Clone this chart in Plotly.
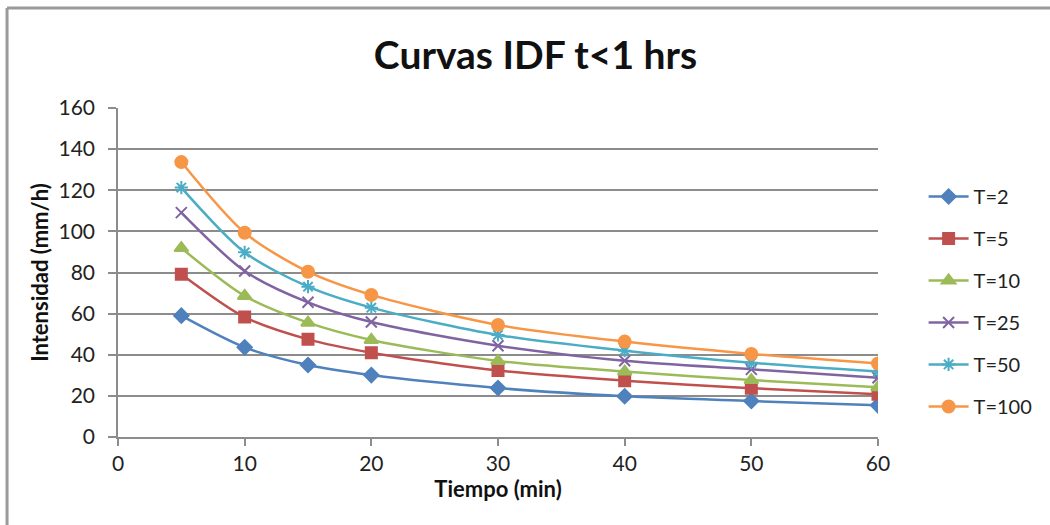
import plotly.graph_objects as go

tiempo = [5, 10, 15, 20, 30, 40, 50, 60]
series_names = ["T=2", "T=5", "T=10", "T=25", "T=50", "T=100"]
t2 = [59.0, 43.6, 35.0, 30.1, 23.8, 19.8, 17.5, 15.4]
t5 = [79.2, 58.3, 47.5, 41.0, 32.3, 27.4, 23.7, 20.8]
t10 = [91.9, 68.6, 55.6, 47.2, 37.0, 31.8, 27.7, 24.2]
t25 = [109.1, 80.7, 65.5, 55.9, 44.4, 37.1, 32.9, 28.8]
t50 = [121.3, 89.8, 73.1, 62.9, 49.6, 42.0, 36.1, 31.8]
t100 = [133.7, 99.3, 80.4, 69.1, 54.5, 46.4, 40.4, 35.8]
values = [t2, t5, t10, t25, t50, t100]

colors = ["#4F81BD", "#C0504D", "#9BBB59", "#8064A2", "#4BACC6", "#F79646"]
symbols = ["diamond", "square", "triangle-up", "x-thin-open", "asterisk-open", "circle"]
sizes = [11, 11, 12, 11, 11, 12]

FONT = "Lato"

fig = go.Figure()
for name, ys, c, s, sz in zip(series_names, values, colors, symbols, sizes):
    fig.add_trace(go.Scatter(
        x=tiempo, y=ys, name=name, legendgroup=name,
        mode="lines+markers",
        line=dict(color=c, width=2.5, shape="spline", smoothing=0.8),
        marker=dict(symbol=s, size=sz, color=c, line=dict(color=c, width=2)),
    ))

# outer frame (gray border)
fig.add_shape(type="line", xref="paper", yref="paper", x0=-0.146, x1=-0.146, y0=-0.4, y1=1.304,
              line=dict(color="#9a9a9a", width=3))
fig.add_shape(type="line", xref="paper", yref="paper", x0=-0.146, x1=1.3, y0=1.304, y1=1.304,
              line=dict(color="#9a9a9a", width=3))

fig.update_layout(
    width=1050, height=525,
    paper_bgcolor="white", plot_bgcolor="white",
    margin=dict(l=118, r=172, t=108, b=88),
    font=dict(family=FONT, color="#222222"),
    title=dict(text="<b>Curvas IDF t&lt;1 hrs</b>", x=0.51, xanchor="center", y=0.895, yanchor="middle",
               font=dict(size=39, family=FONT, color="#111111")),
    xaxis=dict(range=[0, 60], dtick=10, showgrid=False, zeroline=False,
               showline=True, linecolor="#8c8c8c", linewidth=1.5,
               ticks="outside", ticklen=7, tickcolor="#8c8c8c", tickwidth=1.5,
               tickfont=dict(size=21, family=FONT, color="#222222"),
               title=dict(text="<b>Tiempo (min)</b>", font=dict(size=22, family=FONT, color="#111111"), standoff=5)),
    yaxis=dict(range=[0, 160], dtick=20, showgrid=True, gridcolor="#8c8c8c", gridwidth=1.5, zeroline=False,
               showline=True, linecolor="#8c8c8c", linewidth=1.5,
               ticks="outside", ticklen=8, tickcolor="#8c8c8c", tickwidth=1.5,
               ticklabelstandoff=9,
               tickfont=dict(size=21, family=FONT, color="#222222"),
               title=dict(text="<b>Intensidad (mm/h)</b>", font=dict(size=22, family=FONT, color="#111111"), standoff=4)),
    legend=dict(x=1.06, xanchor="left", y=0.412, yanchor="middle", tracegroupgap=13,
                font=dict(size=20, family=FONT, color="#222222"), bgcolor="rgba(0,0,0,0)",
                itemwidth=40),
    showlegend=True,
)

fig.write_html("out.html")
